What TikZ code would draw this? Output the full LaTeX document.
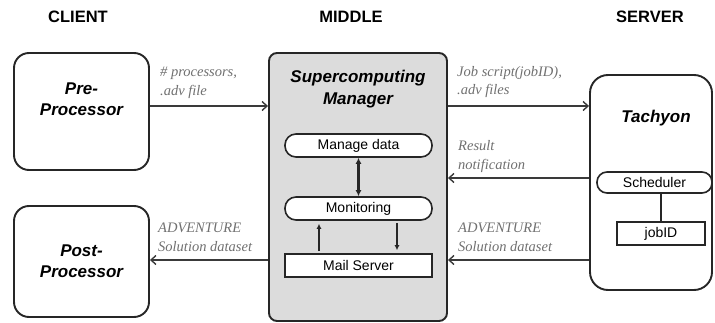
\documentclass[tikz,border=0pt]{standalone}
\usepackage{fontspec}
\setmainfont{Liberation Serif}
\setsansfont{Liberation Sans}
\usepackage{tikz}
\usepackage{xcolor}
\usetikzlibrary{arrows.meta,positioning,calc}
\definecolor{MgrGray}{HTML}{DCDCDC}
\definecolor{NoteGray}{HTML}{707070}
\definecolor{WireGray}{HTML}{3A3A3A}

\begin{document}
\begin{tikzpicture}[x=1pt, y=-1pt,
  head/.style={font=\sffamily\bfseries\fontsize{16.5}{18}\selectfont, inner sep=0pt},
  unitbox/.style={rectangle, rounded corners=15pt, line width=1.9pt, draw=black!85,
                  fill=white, align=center, inner sep=0pt,
                  font=\sffamily\bfseries\itshape\fontsize{17}{21}\selectfont},
  boxtitle/.style={align=center, inner sep=0pt,
                   font=\sffamily\bfseries\itshape\fontsize{17}{22}\selectfont},
  pill/.style={rectangle, rounded corners=11pt, line width=1.6pt, draw=black!85,
               fill=white, minimum width=147pt, minimum height=23pt, inner sep=0pt,
               font=\sffamily\fontsize{14}{16}\selectfont},
  rectbox/.style={rectangle, line width=1.6pt, draw=black!85, fill=white,
                  minimum height=23pt, inner sep=0pt,
                  font=\sffamily\fontsize{14}{16}\selectfont},
  notelbl/.style={align=left, anchor=west, inner sep=0pt, text=NoteGray,
                  font=\itshape\fontsize{14.5}{18.5}\selectfont},
  arr/.style={-{Straight Barb[length=5pt,width=9pt]}, line width=1.4pt, draw=WireGray},
  darr/.style={{Latex[length=6pt,width=6pt]}-{Latex[length=6pt,width=6pt]},
               line width=2.2pt, draw=black!85},
  iarr/.style={-{Latex[length=5pt,width=5pt]}, line width=1.2pt, draw=black!85,
               shorten <=2pt, shorten >=3pt}
]
  \useasboundingbox (0,0) rectangle (715,323);

  \node[head] (client) at (78,17) {CLIENT};
  \node[head] (middle) at (351,17) {MIDDLE};
  \node[head] (server) at (650,17) {SERVER};

  \node[unitbox, minimum width=135pt, minimum height=117pt] (pre) at (81.5,111.5)
        {Pre-\\Processor\\[4pt]};
  \node[unitbox, minimum width=135pt, minimum height=111pt] (post) at (81.5,261.5)
        {Post-\\Processor};

  \node[rectangle, rounded corners=8pt, line width=1.9pt, draw=black!85, fill=MgrGray,
        minimum width=178pt, minimum height=268pt] (mgr) at (358,187) {};
  \node[boxtitle] (mgrtitle) at (358,89) {Supercomputing\\Manager};
  \node[pill] (mandata) at (358.5,145.5) {Manage data};
  \node[pill] (monit) at (358.5,208.5) {Monitoring};
  \node[rectbox, minimum width=147pt] (mail) at (358.5,265.5) {Mail Server};

  \node[unitbox, rounded corners=18pt, minimum width=122pt, minimum height=215pt]
        (tach) at (651,182.5) {};
  \node[boxtitle] (tachtitle) at (656,118) {Tachyon};
  \node[pill, minimum width=115pt, minimum height=21pt, rounded corners=10pt]
        (sched) at (654.5,182.5) {Scheduler};
  \node[rectbox, minimum width=88pt] (jobid) at (661,233.5) {jobID};

  \node[notelbl] (lpre) at (160,83) {\# processors,\\.adv file};
  \node[notelbl] (ljob) at (457,82) {Job script(jobID),\\.adv files};
  \node[notelbl] (lres) at (458,156.5) {Result\\notification};
  \node[notelbl] (ladvr) at (458,237.5) {ADVENTURE\\Solution dataset};
  \node[notelbl] (ladvl) at (158,237.5) {ADVENTURE\\Solution dataset};

  \draw[arr] ([yshift=5.5pt]pre.east) -- ([yshift=5.5pt]pre.east -| mgr.west);
  \draw[arr] ([yshift=81pt]mgr.east) -- ([yshift=81pt]mgr.east -| tach.west);
  \draw[arr] ([yshift=4.5pt]tach.west) -- ([yshift=4.5pt]tach.west -| mgr.east);
  \draw[arr] ([yshift=-77.5pt]tach.west) -- ([yshift=-77.5pt]tach.west -| mgr.east);
  \draw[arr] ([yshift=1.5pt]post.east -| mgr.west) -- ([yshift=1.5pt]post.east);

  \draw[darr] (mandata) -- (monit);
  \draw[iarr] ([xshift=-39.5pt]mail.north) -- ([xshift=-39.5pt]monit.south);
  \draw[iarr] ([xshift=38.5pt]monit.south) -- ([xshift=38.5pt]mail.north);
  \draw[line width=1.4pt, draw=black!85] (jobid.north |- sched.south) -- (jobid.north);
\end{tikzpicture}
\end{document}
